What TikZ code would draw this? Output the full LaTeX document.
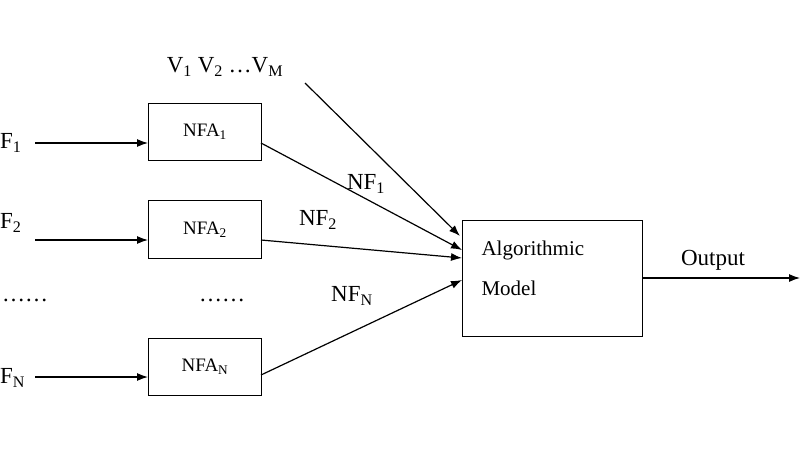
\documentclass[tikz,border=0pt]{standalone}
\usepackage{fontspec}
\setmainfont{Liberation Serif}
\usetikzlibrary{arrows.meta}
\begin{document}
\begin{tikzpicture}[x=1pt,y=-1pt,
  box/.style={draw,line width=1pt,minimum width=113pt,minimum height=57pt,anchor=north west,inner sep=0pt,font=\fontsize{19}{22}\selectfont},
  arr/.style={-{Latex[length=11pt,width=8pt]},line width=1.2pt},
  lab/.style={font=\fontsize{23}{26}\selectfont,inner sep=0pt}]
\useasboundingbox (0,0) rectangle (800,450);
\node[box] (n1) at (148,103) {NFA\textsubscript{1}\hspace{22pt}};
\node[box,minimum height=58pt] (n2) at (148,200) {NFA\textsubscript{2}\hspace{22pt}};
\node[box] (nn) at (148,338) {NFA\textsubscript{N}\hspace{22pt}};
\node[draw,line width=1pt,minimum width=180pt,minimum height=116pt,anchor=north west] (m) at (462,220) {};
\node[font=\fontsize{21}{40}\selectfont,align=left,anchor=west] at (478,268) {Algorithmic\\Model};
\node[lab] (v) at (225,67) {V\textsubscript{1} V\textsubscript{2} \dots V\textsubscript{M}};
\node[lab,anchor=west] (f1) at (0,143) {F\textsubscript{1}};
\node[lab,anchor=west] (f2) at (0,223) {F\textsubscript{2}};
\node[lab,anchor=west] (fn) at (0,378) {F\textsubscript{N}};
\node[lab] at (25,300) {……};
\node[lab] at (222,300) {……};
\coordinate (a1) at (35,143); \coordinate (a2) at (35,240); \coordinate (an) at (35,377);
\draw[arr] (a1) -- (n1.west |- a1);
\draw[arr] (a2) -- (n2.west |- a2);
\draw[arr] (an) -- (nn.west |- an);
\coordinate (vs) at (305,83);
\draw[arr] (vs) -- (460,236);
\draw[arr] (261,143) -- (462,250);
\draw[arr] (261,240) -- (462,258);
\draw[arr] (261,375) -- (462,280);
\node[lab] at (366,184) {NF\textsubscript{1}};
\node[lab] at (318,220) {NF\textsubscript{2}};
\node[lab] at (352,296) {NF\textsubscript{N}};
\coordinate (o) at (800,278);
\draw[arr] (m.east |- o) -- (o);
\node[lab] at (713,260) {Output};
\end{tikzpicture}
\end{document}
